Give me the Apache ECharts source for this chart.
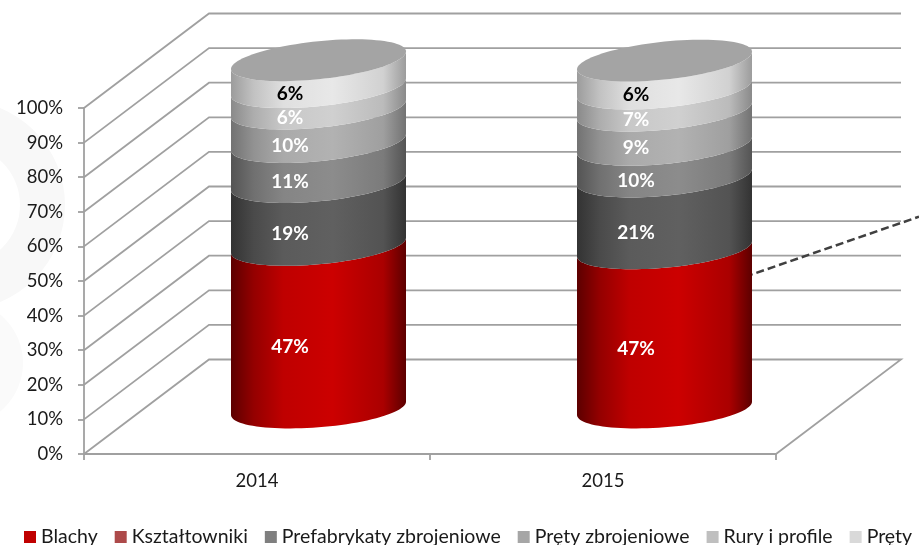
<!DOCTYPE html>
<html><head><meta charset="utf-8">
<style>html,body{margin:0;padding:0;background:#fff}#c{width:919px;height:545px}</style>
<script src="https://cdn.jsdelivr.net/npm/echarts@6/dist/echarts.min.js"></script>
</head><body><div id="c"></div>
<script>
const categories = ['2014', '2015'];
const yTicks = [0, 10, 20, 30, 40, 50, 60, 70, 80, 90, 100];
const seriesNames = ['Blachy', 'Kształtowniki', 'Prefabrykaty zbrojeniowe', 'Pręty zbrojeniowe', 'Rury i profile', 'Pręty'];
const blachy = [47.1, 46.1];
const ksztaltowniki = [18.2, 20.8];
const prefabrykaty = [11.6, 9.2];
const pretyZbrojeniowe = [9.7, 9.9];
const ruryProfile = [6.2, 6.4];
const prety = [7.8, 8.1];
const printedBlachy = ['47%', '47%'];
const printedKsztaltowniki = ['19%', '21%'];
const printedPrefabrykaty = ['11%', '10%'];
const printedPretyZbrojeniowe = ['10%', '9%'];
const printedRuryProfile = ['6%', '7%'];
const printedPrety = ['6%', '6%'];
const legendColors = ['#c00000', '#ad4a4a', '#7f7f7f', '#a6a6a6', '#bfbfbf', '#d9d9d9'];
const centerColors = ['#cc0000', '#606060', '#8c8c8c', '#b2b2b2', '#d0d0d0', '#e8e8e8'];
const edgeColors = ['#5c0000', '#333333', '#545454', '#727272', '#8a8a8a', '#9c9c9c'];
const labelColors = ['#fff', '#fff', '#fff', '#fff', '#fff', '#000'];
const allValues = [blachy, ksztaltowniki, prefabrykaty, pretyZbrojeniowe, ruryProfile, prety];
const allPrinted = [printedBlachy, printedKsztaltowniki, printedPrefabrykaty, printedPretyZbrojeniowe, printedRuryProfile, printedPrety];

const FONT = 'Lato';
const AXIS = '#a0a0a0';
const AXIS_W = 1.8;
const DEPTH_X = 125, DEPTH_Y = 94.5;
const CX_SHIFT = 61.5, CY_SHIFT = -45.7;
const RAD_RATIO = 87.5 / 346;

function arc(cx, cy, r, v, reverse) {
  const tilt = 6.65 + 2.15 * v / 100, b = 19, pts = [];
  const n = 48;
  for (let i = 0; i <= n; i++) {
    const t = Math.PI * (1 - i / n);
    pts.push([cx + r * Math.cos(t), cy - tilt * Math.cos(t) + b * Math.sin(t)]);
  }
  return reverse ? pts.reverse() : pts;
}
function capPoints(cx, cy, r, v) {
  const tilt = 6.65 + 2.15 * v / 100, b = 19, pts = [];
  for (let i = 0; i < 96; i++) {
    const t = 2 * Math.PI * i / 96;
    pts.push([cx + r * Math.cos(t), cy - tilt * Math.cos(t) + b * Math.sin(t)]);
  }
  return pts;
}
const stopOffsets = [0, 0.13, 0.3, 0.58, 0.87, 1];
const stopMix = [0, 0.5, 0.88, 1, 0.7, 0];
function segRender(idx) {
  return function (params, api) {
    const cat = api.value(0), lo = api.value(1), hi = api.value(2);
    const pLo = api.coord([cat, lo]), pHi = api.coord([cat, hi]);
    const r = api.size([1, 0])[0] * RAD_RATIO;
    const cx = pLo[0] + CX_SHIFT, yLo = pLo[1] + CY_SHIFT, yHi = pHi[1] + CY_SHIFT;
    const pts = arc(cx, yHi, r, hi, false).concat(arc(cx, yLo, r, lo, true));
    const fill = {
      type: 'linear', x: 0, y: 0, x2: 1, y2: 0,
      colorStops: stopOffsets.map((o, i) => ({
        offset: o, color: echarts.color.lerp(stopMix[i], [edgeColors[idx], centerColors[idx]])
      }))
    };
    const children = [{ type: 'polygon', shape: { points: pts }, style: { fill: fill } }];
    if (idx === allValues.length - 1) {
      children.push({ type: 'polygon', shape: { points: capPoints(cx, yHi, r, hi) }, style: { fill: '#a4a4a4' } });
    }
    children.push({
      type: 'text', z2: 10,
      style: {
        text: allPrinted[idx][cat], x: cx - 28.5, y: (yLo + yHi) / 2 + 20,
        align: 'center', verticalAlign: 'middle',
        fill: labelColors[idx], font: 'bold 19px ' + FONT
      }
    });
    return { type: 'group', children: children };
  };
}
const segSeries = seriesNames.map((name, idx) => {
  const data = categories.map((c, ci) => {
    let lo = 0;
    for (let k = 0; k < idx; k++) lo += allValues[k][ci];
    return [ci, lo, lo + allValues[idx][ci]];
  });
  return {
    name, type: 'custom', renderItem: segRender(idx), data, z: 5 + idx, clip: false,
    silent: true, itemStyle: { color: legendColors[idx] },
    encode: { x: 0, y: [1, 2] }
  };
});
const wallSeries = {
  type: 'custom', silent: true, z: 1, clip: false,
  data: yTicks.map(v => [0, v]),
  renderItem(params, api) {
    const p = api.coord([0, api.value(1)]);
    const x0 = params.coordSys.x, w = params.coordSys.width, y = p[1];
    const line = [[x0, y], [x0 + DEPTH_X, y - DEPTH_Y], [x0 + DEPTH_X + w, y - DEPTH_Y]];
    if (api.value(1) === 0) line.push([x0 + w, y]);
    return { type: 'polyline', shape: { points: line }, style: { fill: 'none', stroke: AXIS, lineWidth: AXIS_W } };
  }
};
const chart = echarts.init(document.getElementById('c'), null, { renderer: 'canvas' });
chart.setOption({
  animation: false,
  backgroundColor: '#fff',
  textStyle: { fontFamily: FONT },
  graphic: [
    { type: 'ring', z: -1, silent: true, shape: { cx: -40, cy: 205, r: 105, r0: 60 }, style: { fill: '#f8f8f8' } },
    { type: 'circle', z: -1, silent: true, shape: { cx: -40, cy: 363, r: 63 }, style: { fill: '#fafafa' } },
    { type: 'line', z: 2, silent: true, shape: { x1: 745, y1: 276.8, x2: 919, y2: 216.7 }, style: { stroke: '#404040', lineWidth: 2.5, lineDash: [8, 4] } }
  ],
  grid: { left: 84, right: 143, top: 108, bottom: 91, containLabel: false },
  legend: {
    data: seriesNames, left: 24, top: 527, padding: 0, itemWidth: 12, itemHeight: 12, itemGap: 17,
    icon: 'rect', textStyle: { fontFamily: FONT, fontSize: 19.5, color: '#1a1a1a' }
  },
  xAxis: {
    type: 'category', data: categories, boundaryGap: true,
    axisLine: { lineStyle: { color: AXIS, width: AXIS_W } },
    axisTick: { show: true, alignWithLabel: false, length: 6, lineStyle: { color: AXIS, width: AXIS_W } },
    axisLabel: { color: '#1a1a1a', fontSize: 18.5, fontFamily: FONT, margin: 18 }
  },
  yAxis: {
    type: 'value', min: 0, max: 100, interval: 10,
    axisLine: { show: true, lineStyle: { color: AXIS, width: AXIS_W } },
    axisTick: { show: true, length: 6, lineStyle: { color: AXIS, width: AXIS_W } },
    splitLine: { show: false },
    axisLabel: { formatter: '{value}%', color: '#1a1a1a', fontSize: 18.5, fontFamily: FONT, margin: 21, padding: [2, 0, 0, 0] }
  },
  series: [wallSeries].concat(segSeries)
});
</script></body></html>
